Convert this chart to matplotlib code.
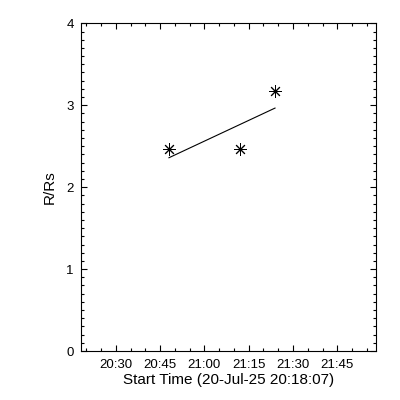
import datetime as dt
import numpy as np
import matplotlib
matplotlib.use('Agg')
import matplotlib.pyplot as plt
import matplotlib.dates as mdates

# data
start = dt.datetime(2025, 7, 20, 20, 18, 7)
times = [dt.datetime(2025, 7, 20, 20, 48, 0),
         dt.datetime(2025, 7, 20, 21, 12, 4),
         dt.datetime(2025, 7, 20, 21, 23, 55)]
r_rs = [2.46, 2.46, 3.17]

xmin = start
xmax = start + dt.timedelta(minutes=100)
ymin, ymax = 0, 4

plt.rcParams['font.family'] = ['Liberation Sans', 'DejaVu Sans']

fig = plt.figure(figsize=(4, 4), dpi=100)
ax = fig.add_axes([0.2018, 0.1225, 0.7382, 0.8192])

xnum = mdates.date2num(times)
# linear fit through the points, drawn over the span of the data
coef = np.polyfit(xnum, r_rs, 1)
xfit = np.array([xnum[0], xnum[-1]])
ax.plot(xfit, np.polyval(coef, xfit), color='black', lw=0.8)
ax.plot(xnum, r_rs, linestyle='none', marker=(8, 2, 0), markersize=9,
        markeredgewidth=0.7, color='black')

ax.set_xlim(mdates.date2num(xmin), mdates.date2num(xmax))
ax.set_ylim(ymin, ymax)

ax.xaxis.set_major_locator(mdates.MinuteLocator(byminute=[0, 15, 30, 45]))
ax.xaxis.set_minor_locator(mdates.MinuteLocator(byminute=range(0, 60, 5)))
ax.xaxis.set_major_formatter(mdates.DateFormatter('%H:%M'))
ax.yaxis.set_major_locator(matplotlib.ticker.MultipleLocator(1))
ax.yaxis.set_minor_locator(matplotlib.ticker.MultipleLocator(0.1))

ax.tick_params(which='both', direction='in', top=True, right=True,
               width=0.8, colors='black', labelsize=9.5)
ax.tick_params(which='major', length=4.5)
ax.tick_params(which='minor', length=2.5)
ax.tick_params(axis='x', which='major', pad=5.5)
ax.tick_params(axis='y', which='major', pad=5)
for s in ax.spines.values():
    s.set_linewidth(0.8)

ax.set_xlabel('Start Time (20-Jul-25 20:18:07)', fontsize=11, labelpad=2)
ax.set_ylabel('R/Rs', fontsize=11, labelpad=7)

fig.savefig('out.png', dpi=100, facecolor='white')
